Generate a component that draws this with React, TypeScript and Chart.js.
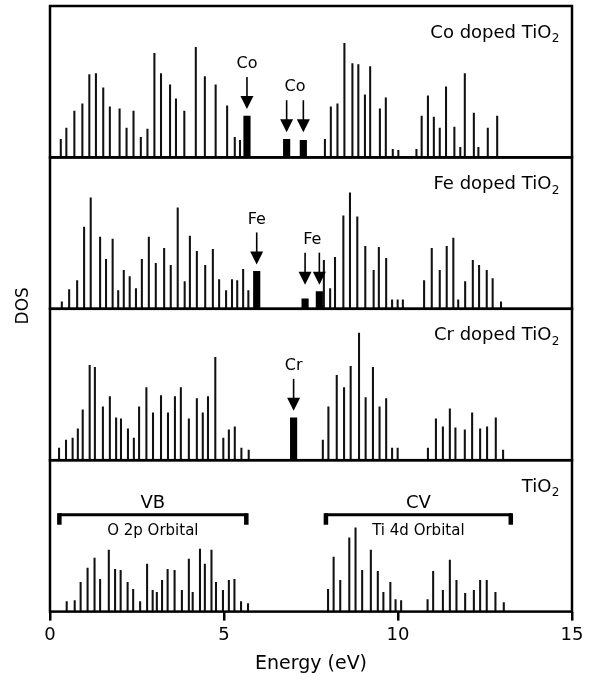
import React, { useEffect, useRef } from 'react';
import { Chart, registerables } from 'chart.js';

Chart.register(...registerables);

// ---------------- data ----------------
const energyRange = [0, 15];
const energyStep = 5;
const dosMax = 150;

const panelTitles = ['Co doped TiO', 'Fe doped TiO', 'Cr doped TiO', 'TiO'];

// Co doped TiO2
const coEnergy = [0.31, 0.47, 0.70, 0.93, 1.13, 1.32, 1.53, 1.72, 2.00, 2.20, 2.40, 2.61, 2.80, 3.00, 3.19, 3.45, 3.62, 3.86, 4.19, 4.45, 4.76, 5.09, 5.31, 5.46,
  7.90, 8.07, 8.26, 8.46, 8.69, 8.86, 9.05, 9.20, 9.48, 9.65, 9.85, 10.01, 10.53, 10.68, 10.86, 11.03, 11.20, 11.38, 11.62, 11.79, 11.92, 12.18, 12.31, 12.58, 12.85];
const coDos = [18, 29, 46, 53, 82, 83, 69, 50, 48, 29, 46, 20, 28, 103, 83, 72, 58, 46, 109, 80, 72, 51, 20, 17,
  18, 50, 53, 113, 93, 92, 62, 90, 48, 59, 8, 7, 8, 41, 61, 40, 29, 70, 30, 10, 83, 44, 10, 29, 41];
const coDopantEnergy = [5.66, 6.80, 7.28];
const coDopantDos = [41, 18, 17];
const coArrowGroups = [[0], [1, 2]];

// Fe doped TiO2
const feEnergy = [0.34, 0.55, 0.78, 0.98, 1.17, 1.44, 1.61, 1.80, 1.96, 2.12, 2.29, 2.47, 2.64, 2.84, 3.04, 3.28, 3.47, 3.67, 3.87, 4.02, 4.22, 4.46, 4.68, 4.86, 5.06, 5.23, 5.38, 5.55, 5.70,
  7.87, 8.05, 8.19, 8.43, 8.62, 8.83, 9.06, 9.30, 9.45, 9.66, 9.83, 9.99, 10.14, 10.75, 10.97, 11.20, 11.40, 11.59, 11.73, 11.93, 12.15, 12.33, 12.55, 12.72, 12.96];
const feDos = [7, 19, 28, 81, 110, 71, 49, 69, 18, 38, 32, 20, 49, 71, 45, 60, 43, 100, 27, 72, 57, 43, 59, 29, 18, 29, 28, 39, 18,
  48, 20, 51, 92, 115, 91, 62, 38, 61, 50, 9, 9, 9, 28, 60, 38, 62, 70, 9, 27, 48, 43, 38, 30, 7];
const feDopantEnergy = [5.94, 7.33, 7.74];
const feDopantDos = [37, 10, 17];
const feArrowGroups = [[0], [1, 2]];

// Cr doped TiO2
const crEnergy = [0.26, 0.46, 0.65, 0.80, 0.94, 1.14, 1.29, 1.52, 1.72, 1.90, 2.04, 2.24, 2.41, 2.56, 2.77, 2.96, 3.19, 3.39, 3.59, 3.76, 3.99, 4.22, 4.39, 4.54, 4.75, 4.98, 5.14, 5.31, 5.50, 5.71,
  7.84, 8.00, 8.24, 8.45, 8.64, 8.88, 9.07, 9.28, 9.47, 9.66, 9.83, 9.99, 10.86, 11.09, 11.29, 11.49, 11.65, 11.92, 12.13, 12.36, 12.56, 12.81, 13.02];
const crDos = [12, 20, 22, 31, 50, 94, 92, 53, 63, 42, 41, 31, 22, 53, 72, 47, 64, 47, 63, 72, 41, 61, 47, 63, 102, 22, 30, 33, 12, 10,
  20, 53, 84, 72, 93, 126, 62, 92, 53, 61, 12, 12, 12, 41, 33, 51, 32, 30, 47, 31, 33, 42, 10];
const crDopantEnergy = [7.00];
const crDopantDos = [42];
const crArrowGroups = [[0]];

// pure TiO2
const tiEnergy = [0.48, 0.71, 0.88, 1.08, 1.28, 1.44, 1.69, 1.87, 2.03, 2.23, 2.39, 2.59, 2.79, 2.95, 3.07, 3.22, 3.38, 3.58, 3.79, 3.99, 4.10, 4.31, 4.45, 4.64, 4.77, 4.97, 5.14, 5.30, 5.49, 5.69,
  7.99, 8.15, 8.34, 8.60, 8.78, 8.97, 9.22, 9.42, 9.58, 9.78, 9.93, 10.09, 10.85, 11.01, 11.29, 11.49, 11.68, 11.93, 12.18, 12.36, 12.55, 12.80, 13.04];
const tiDos = [10, 11, 29, 43, 53, 32, 61, 42, 41, 29, 22, 10, 47, 21, 19, 31, 42, 41, 21, 52, 19, 62, 47, 61, 29, 21, 31, 32, 10, 8,
  22, 54, 31, 73, 83, 41, 61, 40, 19, 29, 12, 11, 12, 40, 21, 51, 31, 18, 21, 31, 31, 19, 9];

// bands marked on the TiO2 panel
const bandNames = ['VB', 'CV'];
const bandOrbitals = ['O 2p Orbital', 'Ti 4d Orbital'];
const bandStart = [0.24, 7.90];
const bandEnd = [5.67, 13.27];
const bandLevel = 96;

// ---------------- chart ----------------
const FONT = "'DejaVu Sans', sans-serif";

type Panel = {
  id: string;
  title: string;
  energy: number[];
  dos: number[];
  dopE: number[];
  dopD: number[];
  groups: number[][];
  label: string;
};

// listed top to bottom
const panels: Panel[] = [
  { id: 'yCo', title: panelTitles[0], energy: coEnergy, dos: coDos, dopE: coDopantEnergy, dopD: coDopantDos, groups: coArrowGroups, label: 'Co' },
  { id: 'yFe', title: panelTitles[1], energy: feEnergy, dos: feDos, dopE: feDopantEnergy, dopD: feDopantDos, groups: feArrowGroups, label: 'Fe' },
  { id: 'yCr', title: panelTitles[2], energy: crEnergy, dos: crDos, dopE: crDopantEnergy, dopD: crDopantDos, groups: crArrowGroups, label: 'Cr' },
  { id: 'yTi', title: panelTitles[3], energy: tiEnergy, dos: tiDos, dopE: [], dopD: [], groups: [], label: '' },
];

function drawSubTitle(ctx: CanvasRenderingContext2D, main: string, sub: string, right: number, y: number) {
  ctx.font = `18px ${FONT}`;
  const mw = ctx.measureText(main).width;
  ctx.font = `12px ${FONT}`;
  const sw = ctx.measureText(sub).width;
  const x0 = right - mw - sw;
  ctx.textAlign = 'left';
  ctx.textBaseline = 'middle';
  ctx.font = `18px ${FONT}`;
  ctx.fillText(main, x0, y);
  ctx.font = `12px ${FONT}`;
  ctx.fillText(sub, x0 + mw + 0.5, y + 6);
}

const panelPlugin = {
  id: 'dosPanels',
  afterDatasetsDraw(chart: any) {
    const ctx: CanvasRenderingContext2D = chart.ctx;
    const area = chart.chartArea;
    const xs = chart.scales.x;
    ctx.save();
    ctx.fillStyle = '#000';
    ctx.strokeStyle = '#000';
    panels.forEach((p) => {
      const ys = chart.scales[p.id];
      ctx.lineWidth = 2.5;
      ctx.strokeRect(area.left, ys.top, area.right - area.left, ys.bottom - ys.top);
      drawSubTitle(ctx, p.title, '2', area.right - 13, ys.top + 27);

      p.groups.forEach((g) => {
        const pxs = g.map((i) => xs.getPixelForValue(p.dopE[i]));
        const topPix = Math.min(...g.map((i) => ys.getPixelForValue(p.dopD[i])));
        const tip = topPix - 7;
        const shaftTop = tip - 32;
        pxs.forEach((px) => {
          ctx.lineWidth = 1.6;
          ctx.beginPath();
          ctx.moveTo(px, shaftTop);
          ctx.lineTo(px, tip - 10);
          ctx.stroke();
          ctx.beginPath();
          ctx.moveTo(px - 6.5, tip - 13);
          ctx.lineTo(px + 6.5, tip - 13);
          ctx.lineTo(px, tip);
          ctx.closePath();
          ctx.fill();
        });
        const cx = pxs.reduce((a, b) => a + b, 0) / pxs.length;
        ctx.font = `16px ${FONT}`;
        ctx.textAlign = 'center';
        ctx.textBaseline = 'middle';
        ctx.fillText(p.label, cx, shaftTop - 13);
      });
    });

    // band brackets in the pure TiO2 panel
    const yt = chart.scales.yTi;
    const by = yt.getPixelForValue(bandLevel);
    bandNames.forEach((name, i) => {
      const x1 = xs.getPixelForValue(bandStart[i]);
      const x2 = xs.getPixelForValue(bandEnd[i]);
      ctx.lineWidth = 3;
      ctx.beginPath();
      ctx.moveTo(x1, by);
      ctx.lineTo(x2, by);
      ctx.stroke();
      ctx.lineWidth = 4.5;
      ctx.beginPath();
      ctx.moveTo(x1 + 1, by - 1.5);
      ctx.lineTo(x1 + 1, by + 10);
      ctx.moveTo(x2 - 1, by - 1.5);
      ctx.lineTo(x2 - 1, by + 10);
      ctx.stroke();
      const cx = (x1 + x2) / 2;
      ctx.textAlign = 'center';
      ctx.textBaseline = 'middle';
      ctx.font = `18px ${FONT}`;
      ctx.fillText(name, cx, by - 11);
      ctx.font = `15px ${FONT}`;
      ctx.fillText(bandOrbitals[i], cx, by + 16);
    });

    // y axis label
    ctx.save();
    ctx.translate(24, (area.top + area.bottom) / 2 - 3);
    ctx.rotate(-Math.PI / 2);
    ctx.font = `17px ${FONT}`;
    ctx.textAlign = 'center';
    ctx.textBaseline = 'middle';
    ctx.fillText('DOS', 0, 0);
    ctx.restore();

    ctx.restore();
  },
};

export default function App() {
  const ref = useRef<HTMLCanvasElement | null>(null);

  useEffect(() => {
    if (!ref.current) return;
    const datasets: any[] = [];
    panels.forEach((p) => {
      datasets.push({
        data: p.energy.map((e, i) => ({ x: e, y: p.dos[i] })),
        yAxisID: p.id,
        backgroundColor: '#111',
        borderWidth: 0,
        barThickness: 1.4,
        grouped: false,
      });
      if (p.dopE.length) {
        datasets.push({
          data: p.dopE.map((e, i) => ({ x: e, y: p.dopD[i] })),
          yAxisID: p.id,
          backgroundColor: '#000',
          borderWidth: 0,
          barThickness: 6.5,
          grouped: false,
        });
      }
    });

    const yScale = () => ({
      type: 'linear',
      position: 'left',
      stack: 'dos',
      stackWeight: 1,
      min: 0,
      max: dosMax,
      display: true,
      ticks: { display: false },
      grid: { display: false, drawTicks: false },
      border: { display: false },
    });

    const scales: any = {
      x: {
        type: 'linear',
        min: energyRange[0],
        max: energyRange[1],
        offset: false,
        ticks: { stepSize: energyStep, color: '#000', font: { family: FONT, size: 18 }, padding: 4 },
        grid: { offset: false, drawOnChartArea: false, tickLength: 9, lineWidth: 2.5, color: '#000' },
        border: { display: false },
        title: { display: true, text: 'Energy (eV)', color: '#000', font: { family: FONT, size: 19 }, padding: { top: 2, bottom: 4 } },
      },
    };
    // stacked left axes are placed top-down in reverse definition order
    [...panels].reverse().forEach((p) => {
      scales[p.id] = yScale();
    });

    const chart = new Chart(ref.current, {
      type: 'bar',
      data: { datasets },
      options: {
        responsive: false,
        animation: false,
        events: [],
        layout: { padding: { left: 50, right: 21, top: 6, bottom: 5 } },
        plugins: { legend: { display: false }, tooltip: { enabled: false } },
        scales,
      },
      plugins: [panelPlugin],
    } as any);
    return () => chart.destroy();
  }, []);

  return (
    <div style={{ position: 'fixed', left: 0, top: 0, width: 593, height: 684, background: '#fff' }}>
      <canvas ref={ref} width={593} height={684} />
    </div>
  );
}
